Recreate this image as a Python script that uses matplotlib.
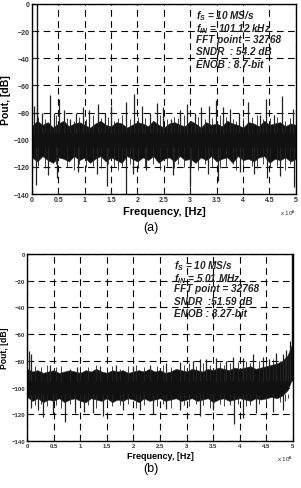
import numpy as np
import matplotlib
matplotlib.use("Agg")
import matplotlib.pyplot as plt

plt.rcParams['font.family'] = 'Liberation Sans'
plt.rcParams['mathtext.fontset'] = 'custom'
plt.rcParams['mathtext.it'] = 'Liberation Sans:italic:bold'
plt.rcParams['mathtext.rm'] = 'Liberation Sans:bold'

# frequency grid of the band envelope, in units of 1e6 Hz
grid = np.linspace(0, 5, 51)

# ---- panel (a): fin = 101.12 kHz ----
a_hi = [-90, -86, -89, -87, -91, -88, -86, -90, -88, -87, -89, -91, -88, -86, -89, -90, -87,
        -88, -91, -89, -87, -88, -90, -86, -89, -91, -88, -87, -89, -90, -86, -88, -91, -87,
        -89, -88, -90, -86, -88, -89, -91, -87, -88, -90, -86, -89, -88, -87, -90, -88, -89]
a_lo = [-113, -116, -112, -115, -117, -113, -114, -116, -112, -115, -113, -117, -114, -112,
        -116, -113, -115, -117, -112, -114, -116, -113, -115, -112, -117, -114, -113, -116,
        -112, -115, -114, -117, -113, -115, -112, -116, -114, -113, -117, -112, -115, -114,
        -116, -113, -112, -117, -114, -115, -113, -116, -114]
a_up_f = [0.04, 0.19, 0.34, 0.41, 0.51, 0.60, 0.73, 0.84, 0.97, 1.08, 1.25, 1.38, 1.49, 1.79,
          1.93, 2.08, 2.23, 2.37, 2.49, 2.63, 2.81, 2.94, 3.08, 3.20, 3.36, 3.49, 3.62, 3.75,
          3.93, 4.10, 4.32, 4.44, 4.58, 4.74, 4.94]
a_up_db = [-75, -80, -67, -80, -70, -78, -85, -80, -76, -78, -74, -80, -75, -72, -66, -75,
           -80, -73, -76, -85, -78, -74, -80, -76, -75, -71, -76, -77, -80, -72, -82, -70,
           -82, -68, -77]
a_dn_f = [0.07, 0.30, 0.47, 0.87, 1.23, 1.42, 1.78, 1.92, 2.17, 2.68, 3.00, 3.34, 3.53, 3.94,
          4.20, 4.45, 4.70, 4.96]
a_dn_db = [-133, -126, -128, -124, -125, -134, -140, -125, -122, -126, -135, -125, -130,
           -124, -125, -128, -127, -135]
a_mi_f = [0.12, 0.25, 0.45, 0.66, 0.79, 0.90, 1.02, 1.15, 1.31, 1.44, 1.56, 1.63, 1.71, 1.86,
          2.01, 2.14, 2.29, 2.43, 2.56, 2.70, 2.76, 2.88, 3.02, 3.14, 3.28, 3.42, 3.56, 3.68,
          3.81, 3.87, 4.00, 4.16, 4.26, 4.38, 4.51, 4.64, 4.80, 4.88]
a_mi_up = [-83, -85, -82, -84, -86, -83, -85, -82, -84, -83, -86, -84, -82, -85, -83, -84,
           -86, -82, -85, -83, -84, -82, -86, -83, -85, -84, -82, -83, -85, -86, -84, -83,
           -82, -85, -84, -83, -86, -84]
a_mi_dn = [-119, -121, -118, -120, -122, -118, -120, -119, -121, -118, -120, -122, -119,
           -118, -121, -120, -118, -122, -119, -121, -118, -120, -119, -122, -118, -120,
           -121, -119, -118, -122, -120, -119, -121, -118, -120, -119, -122, -118]
a_sig_f = 0.101
a_sig_db = 0

# ---- panel (b): fin = 5.01 MHz ----
b_hi = [-86, -88, -87, -89, -88, -87, -89, -88, -87, -88, -89, -87, -88, -86, -88, -89, -87,
        -88, -87, -89, -88, -87, -88, -86, -88, -87, -89, -88, -86, -87, -88, -86, -87, -88,
        -86, -87, -85, -86, -87, -85, -86, -85, -84, -86, -85, -84, -83, -82, -80, -76, -66]
b_lo = [-107, -110, -108, -111, -109, -110, -108, -111, -109, -108, -110, -111, -108, -109,
        -110, -108, -111, -109, -110, -108, -109, -111, -108, -110, -109, -108, -110, -109,
        -108, -110, -109, -108, -110, -109, -108, -111, -109, -108, -110, -109, -108, -109,
        -110, -108, -109, -108, -107, -108, -106, -102, -92]
b_up_f = [0.03, 0.08, 0.43, 0.93, 1.37, 1.68, 1.99, 2.31, 2.62, 2.87, 3.12, 3.25, 3.37, 3.56,
          3.75, 3.87, 4.06, 4.25, 4.44, 4.56, 4.69, 4.81, 4.88, 4.94]
b_up_db = [-73, -75, -83, -85, -84, -83, -84, -83, -82, -81, -80, -79, -79, -78, -80, -77,
           -78, -75, -77, -79, -74, -75, -72, -65]
b_dn_f = [0.08, 0.21, 0.30, 0.49, 0.71, 0.90, 1.08, 1.24, 1.43, 1.80, 2.12, 2.37, 2.62, 2.87,
          3.25, 3.50, 3.90, 4.06, 4.31, 4.62, 4.81]
b_dn_db = [-115, -117, -122, -120, -126, -119, -118, -119, -121, -117, -117, -120, -116,
           -117, -121, -117, -127, -123, -119, -118, -117]
b_mi_f = [0.15, 0.26, 0.37, 0.55, 0.64, 0.80, 1.00, 1.14, 1.30, 1.50, 1.60, 1.75, 1.90, 2.05,
          2.20, 2.45, 2.55, 2.70, 2.95, 3.05, 3.18, 3.31, 3.44, 3.62, 3.70, 3.82, 3.96, 4.12,
          4.19, 4.37, 4.50, 4.63, 4.75, 4.85, 4.91]
b_mi_up = [-84, -85, -83, -85, -84, -86, -84, -85, -83, -85, -84, -86, -84, -83, -85, -84,
           -83, -85, -83, -82, -84, -82, -83, -81, -83, -82, -81, -80, -82, -80, -81, -79,
           -80, -78, -76]
b_mi_dn = [-113, -112, -114, -113, -115, -112, -114, -113, -115, -112, -114, -113, -112,
           -115, -113, -114, -112, -115, -113, -114, -112, -113, -115, -112, -114, -113,
           -112, -114, -113, -112, -113, -112, -111, -110, -108]
b_sig_f = 4.99
b_sig_db = 0

xticks = [0, 0.5, 1, 1.5, 2, 2.5, 3, 3.5, 4, 4.5, 5]
xtick_labels = ['0', '0.5', '1', '1.5', '2', '2.5', '3', '3.5', '4', '4.5', '5']
yticks = [0, -20, -40, -60, -80, -100, -120, -140]

fig = plt.figure(figsize=(3.01, 4.89), dpi=100)
ax_a = fig.add_axes([0.106, 0.601, 0.877, 0.389])
ax_b = fig.add_axes([0.090, 0.096, 0.883, 0.383])

panels = [
    (ax_a, a_hi, a_lo, a_up_f, a_up_db, a_dn_f, a_dn_db, a_mi_f, a_mi_up, a_mi_dn,
     a_sig_f, a_sig_db,
     [r'$f_S$ = 10 MS/s', r'$f_{IN}$ = 101.12 kHz', 'FFT point = 32768',
      'SNDR  : 54.2 dB', 'ENOB : 8.7-bit'], 0.62, 5.0, 7.5, 8),
    (ax_b, b_hi, b_lo, b_up_f, b_up_db, b_dn_f, b_dn_db, b_mi_f, b_mi_up, b_mi_dn,
     b_sig_f, b_sig_db,
     [r'$f_S$ = 10 MS/s', r'$f_{IN}$ = 5.01 MHz', 'FFT point = 32768',
      'SNDR  :51.59 dB', 'ENOB : 8.27-bit'], 0.553, 4.3, 6.2, 6.5),
]

for (ax, hi, lo, uf, udb, df, ddb, mf, mup, mdn, sf, sdb, lines,
     tx, tfs, lfs, xfs) in panels:
    ax.set_axisbelow(True)
    ax.fill_between(grid, lo, hi, color='#111111', lw=0.4, edgecolor='#333333', zorder=2)
    ax.vlines(mf, -95, mup, color='#222222', lw=0.6, zorder=2)
    ax.vlines(mf, mdn, -105, color='#222222', lw=0.6, zorder=2)
    ax.vlines(uf, -95, udb, color='#222222', lw=0.9, zorder=2)
    ax.vlines(df, ddb, -105, color='#222222', lw=0.9, zorder=2)
    ax.vlines([sf], -95, [sdb], color='#111111', lw=1.0, zorder=2)
    ax.set_xlim(0, 5)
    ax.set_ylim(-140, 0)
    ax.set_xticks(xticks)
    ax.set_xticklabels(xtick_labels)
    ax.set_yticks(yticks)
    ax.tick_params(direction='in', length=2, labelsize=tfs, colors='#333333', pad=1.5)
    for lab in ax.get_xticklabels() + ax.get_yticklabels():
        lab.set_fontweight('bold')
    ax.grid(True, color='black', linestyle=(0, (6, 4)), lw=0.8)
    for s in ax.spines.values():
        s.set_linewidth(1.0)
        s.set_zorder(3)
    ax.set_xlabel('Frequency, [Hz]', fontsize=xfs, fontweight='bold', labelpad=2)
    ax.set_ylabel('Pout, [dB]', fontsize=lfs, fontweight='bold', labelpad=2)
    ax.text(1.0, -0.07, r'x 10$^{6}$', transform=ax.transAxes, ha='right', va='top',
            fontsize=4.5, color='#333333')
    step = 0.066
    for i, t in enumerate(lines):
        ax.text(tx, 0.975 - i * step, t, transform=ax.transAxes, ha='left', va='top',
                fontsize=7.2, fontstyle='italic', fontweight='bold', color='#222222',
                zorder=4)

fig.text(0.5, 1 - 228 / 489, '(a)', ha='center', va='center', fontsize=9)
fig.text(0.5, 1 - 469 / 489, '(b)', ha='center', va='center', fontsize=9)

fig.savefig('out.png', dpi=100)
